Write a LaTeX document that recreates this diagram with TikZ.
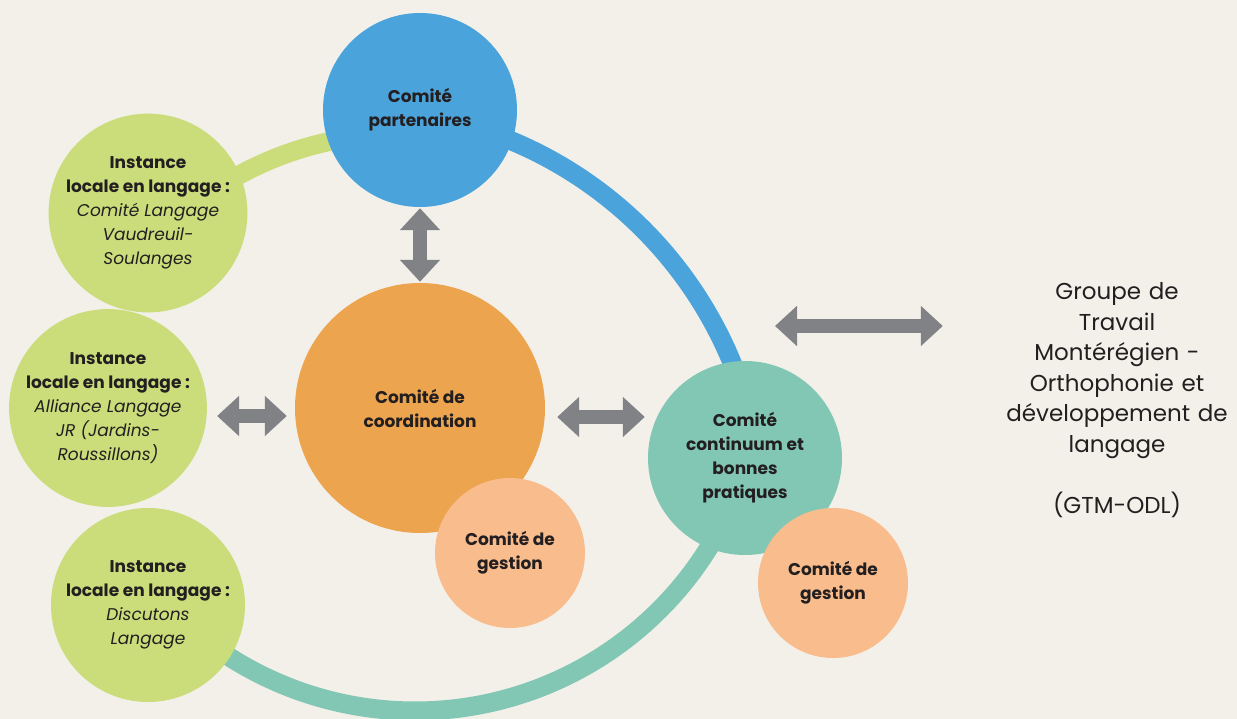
\documentclass[tikz,border=0pt]{standalone}
\usepackage{fontspec}
\setmainfont{Poppins}
\usetikzlibrary{arrows.meta}

\definecolor{cfond}{HTML}{F3F0EA}
\definecolor{cbleu}{HTML}{4AA3DB}
\definecolor{cvert}{HTML}{CBDD7B}
\definecolor{corange}{HTML}{EDA44F}
\definecolor{cpeche}{HTML}{F9BC8C}
\definecolor{cteal}{HTML}{82C7B4}
\definecolor{cgris}{HTML}{818286}
\definecolor{ctexte}{HTML}{231F20}

\tikzstyle{comite} = [circle, minimum size=194pt, inner sep=0pt, align=center, text=ctexte, font=\bfseries\fontsize{17}{24}\selectfont]
\tikzstyle{instance} = [comite, fill=cvert, font=\fontsize{17}{24}\selectfont]
\tikzstyle{gestion} = [comite, fill=cpeche, minimum size=150pt]
\tikzstyle{anneau} = [line width=19pt, line cap=butt]
\tikzstyle{fleche} = [{Triangle[width=39pt,length=22pt]}-{Triangle[width=39pt,length=22pt]}, line width=14pt, draw=cgris]

\begin{document}
\begin{tikzpicture}[x=1pt,y=-1pt]

\fill[cfond] (0,0) rectangle (1237,719);
\useasboundingbox (0,0) rectangle (1237,719);

% anneau
\draw[anneau, cvert] (400,470) ++(-128:336) arc[start angle=-128, end angle=-97, radius=336];
\draw[anneau, cbleu] (353,519) ++(-75:410) arc[start angle=-75, end angle=-14, radius=410];
\draw[anneau, cteal] (415,365) ++(28:346) arc[start angle=28, end angle=125, radius=346];

% comites
\node[comite, fill=cbleu] (part) at (420,110) {Comité\\ partenaires};
\node[comite, fill=corange, minimum size=250pt] (coord) at (420,408) {Comité de\\ coordination};
\node[gestion] (gest1) at (510,553) {Comité de\\ gestion};
\node[comite, fill=cteal] (cont) at (745,458) {Comité\\ continuum et\\ bonnes\\ pratiques};
\node[gestion] (gest2) at (833,583) {Comité de\\ gestion};

% instances locales
\node[instance] (ilVS) at (148,213) {\textbf{Instance}\\ \textbf{locale en langage :}\\ \textit{Comité Langage}\\ \textit{Vaudreuil-}\\ \textit{Soulanges}};
\node[instance] (ilJR) at (108,408) {\textbf{Instance}\\ \textbf{locale en langage :}\\ \textit{Alliance Langage}\\ \textit{JR (Jardins-}\\ \textit{Roussillons)}};
\node[instance] (ilDL) at (148,605) {\textbf{Instance}\\ \textbf{locale en langage :}\\ \textit{Discutons}\\ \textit{Langage}};

\node[align=center, text width=250pt, inner sep=0pt, text=ctexte, font=\fontsize{23}{30.5}\selectfont] (gtm) at (1117,400)
{Groupe de\\ Travail\\ Montérégien -\\ Orthophonie et\\ développement de\\ langage\\[30.5pt] (GTM-ODL)};

% fleches
\coordinate (reseau) at (775,326);
\draw[fleche, shorten <=1pt, shorten >=1pt] (part.south) -- (coord.north);
\draw[fleche, shorten <=10pt, shorten >=8pt] ([yshift=-8pt]ilJR.east) -- ([yshift=-8pt]ilJR.east -| coord.west);
\draw[fleche, shorten <=12pt, shorten >=3pt] ([yshift=-9pt]coord.east) -- ([yshift=-9pt]coord.east -| cont.west);
\draw[fleche, shorten >=49pt] (reseau) -- (reseau -| gtm.west);

\end{tikzpicture}
\end{document}
